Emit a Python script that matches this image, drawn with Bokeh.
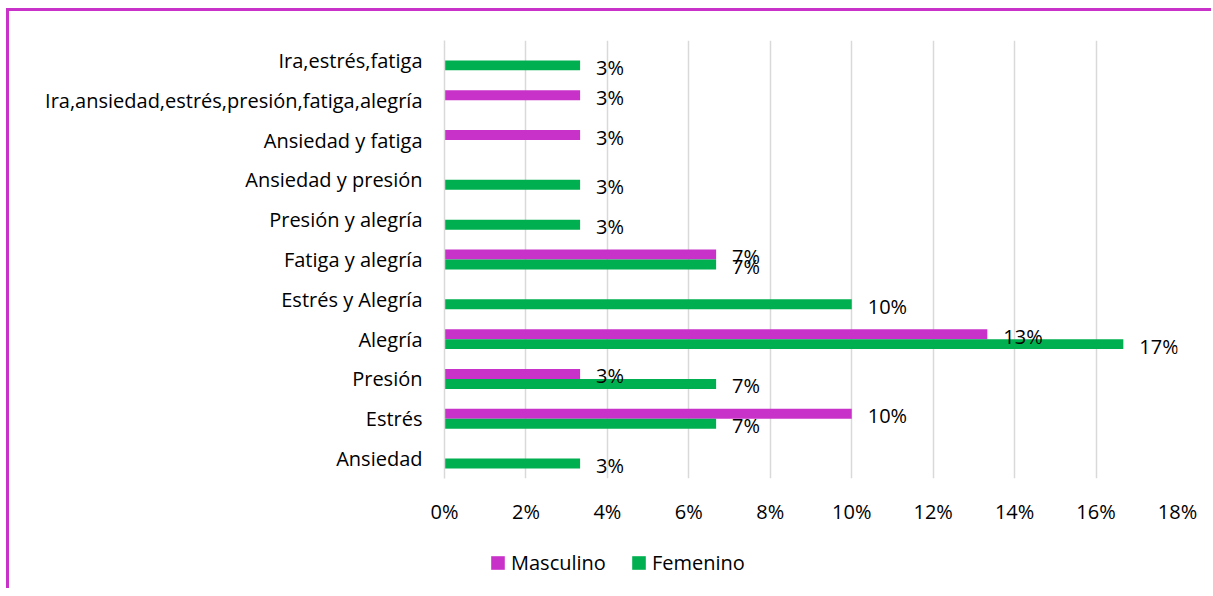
from bokeh.plotting import figure
from bokeh.layouts import column
from bokeh.models import ColumnDataSource, FixedTicker, PrintfTickFormatter, Range1d, Legend, LegendItem
from bokeh.transform import dodge
from bokeh.core.properties import value
from bokeh.embed import file_html
from bokeh.resources import INLINE

categories = ["Ansiedad", "Estrés", "Presión", "Alegría", "Estrés y Alegría",
              "Fatiga y alegría", "Presión y alegría", "Ansiedad y presión",
              "Ansiedad y fatiga", "Ira,ansiedad,estrés,presión,fatiga,alegría",
              "Ira,estrés,fatiga"]
masculino = [0, 10.0, 3.33, 13.33, 0, 6.67, 0, 0, 3.33, 3.33, 0]
femenino = [3.33, 6.67, 6.67, 16.67, 10.0, 6.67, 3.33, 3.33, 0, 0, 3.33]
series = ["Masculino", "Femenino"]
x_ticks = [0, 2, 4, 6, 8, 10, 12, 14, 16, 18]

MAG = "#C832C8"
GRN = "#00B050"
FONT = "Open Sans"
FS = "20px"

def src(vals):
    c = [k for k, v in zip(categories, vals) if v > 0]
    v = [v for v in vals if v > 0]
    lab = ["%d%%" % round(x) for x in v]
    return ColumnDataSource(dict(cat=c, val=v, lab=lab))

sm = src(masculino)
sf = src(femenino)

p = figure(width=1202, height=517, y_range=categories, x_range=Range1d(0, 18),
           output_backend="svg", toolbar_location=None,
           min_border_left=435, min_border_right=34, min_border_top=29,
           min_border_bottom=50)
p.outline_line_color = None

p.hbar(y=dodge("cat", 0.125, range=p.y_range), right="val", height=0.25,
       left=0, source=sm, fill_color=MAG, line_color=None)
p.hbar(y=dodge("cat", -0.125, range=p.y_range), right="val", height=0.25,
       left=0, source=sf, fill_color=GRN, line_color=None)

for s, off in ((sm, 0.125), (sf, -0.125)):
    p.text(x="val", y=dodge("cat", off, range=p.y_range), text="lab", source=s,
           x_offset=16, y_offset=2, text_baseline="middle", text_align="left",
           text_font=value(FONT), text_font_size=FS, text_color="#000000")

p.xaxis.ticker = FixedTicker(ticks=x_ticks)
p.xaxis.formatter = PrintfTickFormatter(format="%d%%")
p.xaxis.axis_line_color = None
p.xaxis.major_tick_line_color = None
p.xaxis.minor_tick_line_color = None
p.xaxis.major_label_standoff = 13
p.yaxis.axis_line_color = "#D9D9D9"
p.yaxis.axis_line_width = 1.5
p.yaxis.major_tick_line_color = None
p.yaxis.minor_tick_line_color = None
p.yaxis.major_label_standoff = 16
for ax in (p.xaxis, p.yaxis):
    ax.major_label_text_font = FONT
    ax.major_label_text_font_size = FS
    ax.major_label_text_color = "#000000"

p.ygrid.grid_line_color = None
p.xgrid.grid_line_color = "#D9D9D9"
p.xgrid.grid_line_width = 1.5

# legend strip (frame aligned with the chart frame by the column layout)
lf = figure(width=1202, height=60, x_range=Range1d(0, 1), y_range=Range1d(0, 1),
            output_backend="svg", toolbar_location=None,
            min_border_left=0, min_border_right=0,
            min_border_top=0, min_border_bottom=0)
lf.axis.visible = False
lf.grid.visible = False
lf.outline_line_color = None
proxy = ColumnDataSource(dict(y=[-5], right=[1]))  # legend proxy, outside view
lm = lf.hbar(y="y", right="right", height=0.1, source=proxy, fill_color=MAG, line_color=None)
lg = lf.hbar(y="y", right="right", height=0.1, source=proxy, fill_color=GRN, line_color=None)
legend = Legend(items=[LegendItem(label=series[0], renderers=[lm]),
                       LegendItem(label=series[1], renderers=[lg])],
                location=(45, 12), orientation="horizontal",
                glyph_width=17, glyph_height=17, label_standoff=5, spacing=24,
                padding=0, margin=0, border_line_color=None,
                background_fill_alpha=0, label_text_font=FONT,
                label_text_font_size=FS, label_text_color="#000000")
lf.add_layout(legend, "center")

layout = column(p, lf, spacing=0)
layout.styles = {"border-top": "3px solid " + MAG, "border-left": "3px solid " + MAG,
                 "margin-left": "6px", "margin-top": "8px"}

open("out.html", "w").write(file_html(layout, INLINE))
